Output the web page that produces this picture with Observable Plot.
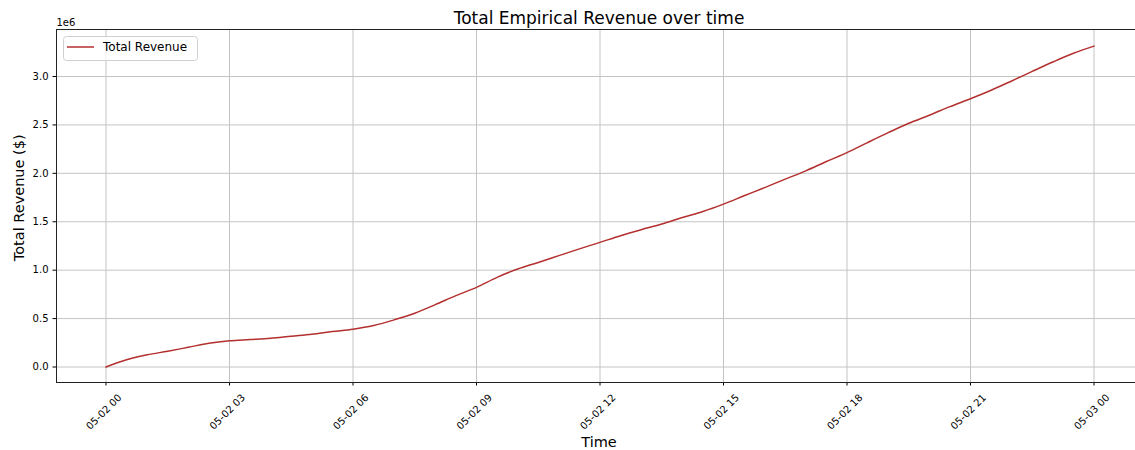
<!DOCTYPE html>
<html>
<head>
<meta charset="utf-8">
<script src="https://cdn.jsdelivr.net/npm/d3@7"></script>
<script src="https://cdn.jsdelivr.net/npm/@observablehq/plot@0.6"></script>
<style>
  html, body { margin: 0; padding: 0; background: #fff; }
  #chart svg { display: block; }
</style>
</head>
<body>
<div id="chart"></div>
<script>
// ---- Data ----
const startDay = [2024, 4, 2]; // 2024-05-02 00:00 UTC
const hoursFromStart = [0, 0.5, 1, 1.5, 2, 2.5, 3, 3.5, 4, 4.5, 5, 5.5, 6, 6.5, 7, 7.5, 8, 8.5, 9, 9.5,
  10, 10.5, 11, 11.5, 12, 12.5, 13, 13.5, 14, 14.5, 15, 15.5, 16, 16.5, 17, 17.5, 18, 18.5, 19, 19.5,
  20, 20.5, 21, 21.5, 22, 22.5, 23, 23.5, 24];
const totalRevenue = [0, 74000, 126000, 163000, 204000, 245000, 270000, 283000, 297000, 318000,
  338000, 366000, 390000, 428000, 487000, 555000, 644000, 737000, 823000, 926000,
  1012000, 1080000, 1150000, 1220000, 1287000, 1356000, 1418000, 1476000, 1544000, 1606000,
  1682000, 1768000, 1853000, 1940000, 2026000, 2122000, 2214000, 2318000, 2420000, 2517000,
  2600000, 2689000, 2771000, 2858000, 2954000, 3053000, 3150000, 3240000, 3314000];
const xTickHours = [0, 3, 6, 9, 12, 15, 18, 21, 24];
const xTickLabels = ["05-02 00", "05-02 03", "05-02 06", "05-02 09", "05-02 12", "05-02 15", "05-02 18", "05-02 21", "05-03 00"];
const yTickValues = [0, 500000, 1000000, 1500000, 2000000, 2500000, 3000000];
const yTickLabels = ["0.0", "0.5", "1.0", "1.5", "2.0", "2.5", "3.0"];
const seriesName = "Total Revenue";
const titleText = "Total Empirical Revenue over time";
const xLabelText = "Time";
const yLabelText = "Total Revenue ($)";
const offsetText = "1e6";

// ---- Build table ----
const HOUR = 3600 * 1000;
const base = Date.UTC(...startDay);
const toDate = h => new Date(base + h * HOUR);
const rows = hoursFromStart.map((h, i) => ({time: toDate(h), revenue: totalRevenue[i]}));
const xTicks = xTickHours.map(toDate);

const W = 1135, H = 450;
const mL = 56, mR = 0, mT = 29, mB = 68;
const xDomain = [toDate(-1.2024), toDate(25.008)];
const yDomain = [-160000, 3485500];
const gridColor = "#c4c4c4";
const lineColor = "#b3302f";
const font = "'DejaVu Sans', 'Liberation Sans', sans-serif";

const chart = Plot.plot({
  width: W,
  height: H,
  marginLeft: mL,
  marginRight: mR,
  marginTop: mT,
  marginBottom: mB,
  style: {fontFamily: font, background: "#fff", color: "#000", overflow: "visible"},
  x: {type: "utc", domain: xDomain},
  y: {domain: yDomain},
  marks: [
    Plot.gridX(xTicks, {stroke: gridColor, strokeOpacity: 1, strokeWidth: 1}),
    Plot.gridY(yTickValues, {stroke: gridColor, strokeOpacity: 1, strokeWidth: 1}),
    Plot.axisY({ticks: yTickValues, tickSize: 3.5, tickPadding: 4.5, fontSize: 10,
      tickFormat: d => yTickLabels[yTickValues.indexOf(d)], label: null, stroke: "#000"}),
    Plot.axisX({ticks: xTicks, tickSize: 3.5, tickFormat: () => "", label: null, stroke: "#000"}),
    Plot.text(xTicks, {x: d => d, frameAnchor: "bottom", text: (d, i) => xTickLabels[i],
      rotate: -45, textAnchor: "middle", lineAnchor: "middle", dy: 29.5, dx: -2, fontSize: 10, fill: "#000"}),
    Plot.line(rows, {x: "time", y: "revenue", stroke: lineColor, strokeWidth: 1.5, curve: "monotone-x"}),
    Plot.ruleY([yDomain[0]], {stroke: "#222", strokeWidth: 1}),
    Plot.ruleY([yDomain[1]], {stroke: "#222", strokeWidth: 1}),
    Plot.ruleX([xDomain[0]], {stroke: "#222", strokeWidth: 1})
  ]
});

const svg = d3.select(chart);
// Title
svg.append("text").attr("x", 599).attr("y", 24).attr("text-anchor", "middle")
  .attr("font-size", 17).attr("font-family", font).attr("fill", "#000").text(titleText);
// Axis labels
svg.append("text").attr("x", 599).attr("y", 447).attr("text-anchor", "middle")
  .attr("font-size", 14.5).attr("font-family", font).attr("fill", "#000").text(xLabelText);
svg.append("text").attr("transform", "translate(24,197.75) rotate(-90)").attr("text-anchor", "middle")
  .attr("font-size", 14.5).attr("font-family", font).attr("fill", "#000").text(yLabelText);
// Offset text
svg.append("text").attr("x", 56.5).attr("y", 26).attr("text-anchor", "start").attr("font-size", 10)
  .attr("font-family", font).attr("fill", "#000").text(offsetText);
// Legend
const lg = svg.append("g");
lg.append("rect").attr("x", 63.5).attr("y", 36.5).attr("width", 134).attr("height", 24).attr("rx", 3)
  .attr("fill", "#fff").attr("fill-opacity", 0.8).attr("stroke", "#d0d0d0");
lg.append("line").attr("x1", 67).attr("x2", 94).attr("y1", 47).attr("y2", 47)
  .attr("stroke", lineColor).attr("stroke-width", 1.5);
lg.append("text").attr("x", 103).attr("y", 47).attr("dy", "0.35em").attr("text-anchor", "start").attr("font-size", 12)
  .attr("font-family", font).attr("fill", "#000").text(seriesName);

document.getElementById("chart").appendChild(chart);
</script>
</body>
</html>
